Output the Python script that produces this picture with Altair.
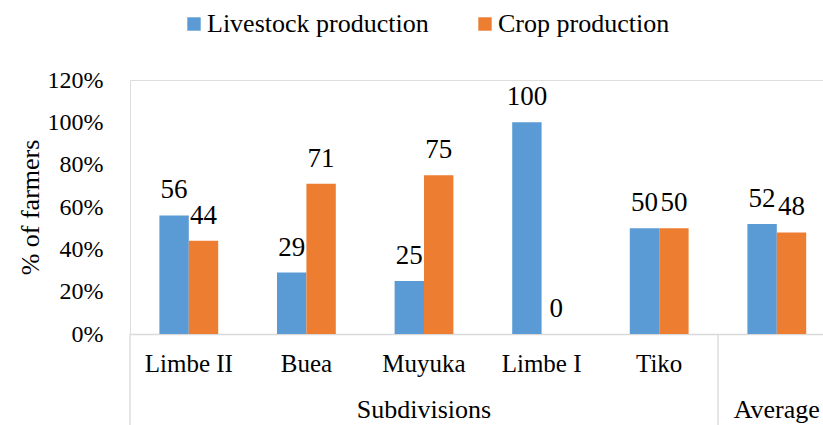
import altair as alt
import pandas as pd

categories = ["Limbe II", "Buea", "Muyuka", "Limbe I", "Tiko", "Average"]
livestock = [56, 29, 25, 100, 50, 52]
crop = [44, 71, 75, 0, 50, 48]
series = ["Livestock production", "Crop production"]
colors = ["#5B9BD5", "#ED7D31"]
y_ticks = [0, 20, 40, 60, 80, 100, 120]
group_labels = ["Subdivisions", "Average"]
group_anchor = ["Muyuka", "Average"]
divider_at = ["Limbe II", "Average"]

rows = []
for c, l, cr in zip(categories, livestock, crop):
    rows.append({"cat": c, "series": series[0], "value": l})
    rows.append({"cat": c, "series": series[1], "value": cr})
df = pd.DataFrame(rows)
groups_df = pd.DataFrame({"cat": group_anchor, "label": group_labels})
div_df = pd.DataFrame({"cat": divider_at})

FONT = "'Liberation Serif', 'Times New Roman', serif"
W, H = 693, 254
RANGE_END = 705.6
STEP = RANGE_END / len(categories)

xscale = alt.Scale(domain=categories, range=[0, RANGE_END], paddingInner=0.5, paddingOuter=0.25)

x_enc = alt.X(
    "cat:N", scale=xscale, sort=categories,
    axis=alt.Axis(title=None, labelAngle=0, labelFontSize=25, labelFont=FONT,
                  labelExpr="datum.value == 'Average' ? '' : datum.value",
                  labelPadding=17, ticks=False, tickSize=0, domainColor="#d9d9d9",
                  domainWidth=1.3, labelColor="black"),
)
y_enc = alt.Y(
    "value:Q", scale=alt.Scale(domain=[0, 120], nice=False),
    axis=alt.Axis(values=y_ticks, labelExpr="datum.value + '%'", grid=False,
                  domain=False, ticks=False, tickSize=0, labelFontSize=24,
                  labelFont=FONT, labelPadding=27, labelColor="black",
                  title="% of farmers", titleFontSize=26, titleFont=FONT,
                  titleFontWeight="normal", titleColor="black", titleX=-100,
                  titleY=H / 2, titleAlign="center", titleBaseline="middle"),
)
color_enc = alt.Color(
    "series:N", scale=alt.Scale(domain=series, range=colors),
    legend=alt.Legend(orient="none", legendX=51, legendY=-69, direction="horizontal",
                      title=None, symbolType="square", symbolSize=180,
                      symbolStrokeWidth=0, labelFontSize=26, labelFont=FONT,
                      labelColor="black", columnPadding=43, labelOffset=0,
                      labelLimit=1000),
)
xoff = alt.XOffset("series:N", scale=alt.Scale(domain=series))

base = alt.Chart(df)
bars = base.mark_bar().encode(x=x_enc, y=y_enc, color=color_enc, xOffset=xoff)
labels = base.mark_text(font=FONT, fontSize=27, baseline="alphabetic", dy=-17,
                        color="black").encode(
    x=alt.X("cat:N", scale=xscale, sort=categories),
    y=alt.Y("value:Q"),
    xOffset=xoff,
    text=alt.Text("value:Q"),
)
dividers = alt.Chart(div_df).mark_rule(color="#d9d9d9", strokeWidth=1.3,
                                       xOffset=-STEP * 0.25).encode(
    x=alt.X("cat:N", scale=xscale, sort=categories, bandPosition=0),
    y=alt.value(H),
    y2=alt.value(H + 91),
)
group_text = alt.Chart(groups_df).mark_text(font=FONT, fontSize=26,
                                            baseline="alphabetic", color="black").encode(
    x=alt.X("cat:N", scale=xscale, sort=categories),
    y=alt.value(H + 84),
    text="label:N",
)

chart = alt.layer(bars, labels, dividers, group_text).properties(
    width=W, height=H,
    autosize=alt.AutoSizeParams(type="none"),
    padding={"left": 130, "top": 80, "right": 0, "bottom": 91},
).configure_view(stroke=None).configure(font=FONT, background="white")

chart.save("out.html", embed_options={"renderer": "svg", "actions": False})
